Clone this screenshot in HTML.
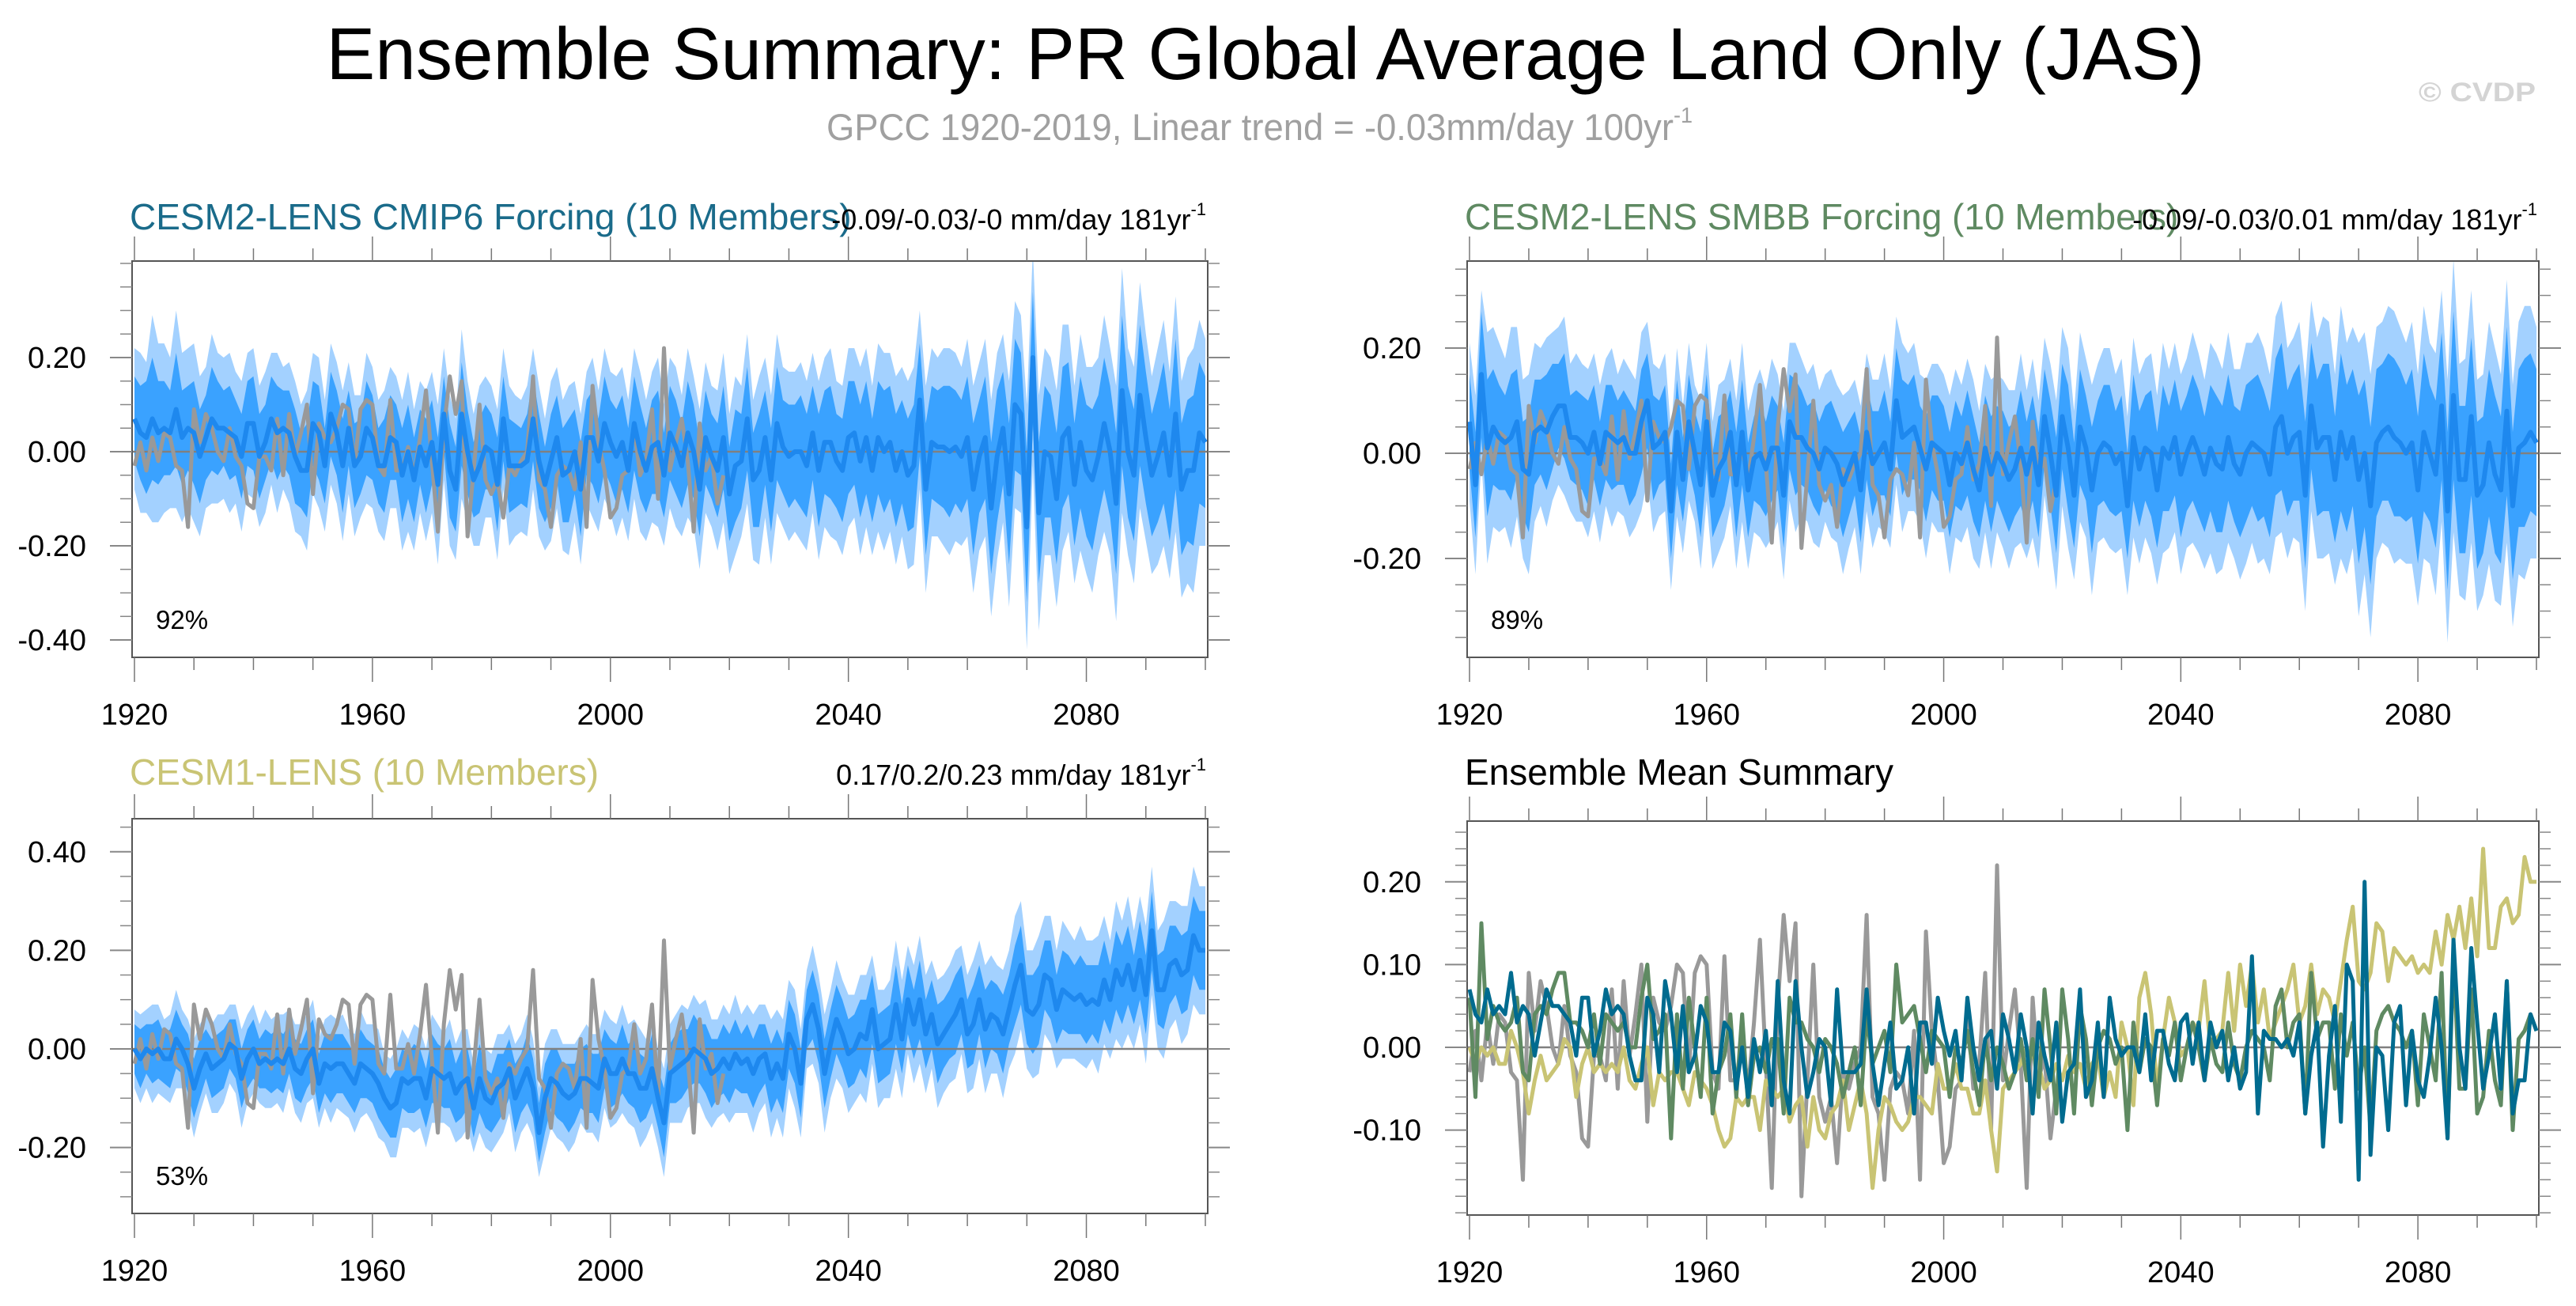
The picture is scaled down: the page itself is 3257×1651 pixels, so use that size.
<!DOCTYPE html>
<html><head><meta charset="utf-8">
<style>
html,body{margin:0;padding:0;background:#fff;}
svg{display:block;font-family:"Liberation Sans",Arial,sans-serif;}
</style></head>
<body>
<svg id="chart" width="3257" height="1651" viewBox="0 0 3257 1651" xmlns="http://www.w3.org/2000/svg">
<rect width="3257" height="1651" fill="#fff"/>
<text x="1600" y="100" font-size="93" text-anchor="middle" textLength="2375" lengthAdjust="spacingAndGlyphs">Ensemble Summary: PR Global Average Land Only (JAS)</text>
<text x="1045" y="177" font-size="47" fill="#a0a0a0" textLength="1095" lengthAdjust="spacingAndGlyphs">GPCC 1920-2019, Linear trend = -0.03mm/day 100yr<tspan font-size="28" dy="-22">-1</tspan></text>
<text x="3058" y="128" font-size="34" font-weight="bold" fill="#d4d4d4" textLength="148" lengthAdjust="spacingAndGlyphs">© CVDP</text>
<g id="panels"></g>
</svg>
<script>
const years = [];
for (let y = 1920; y <= 2100; y++) years.push(y);
const obsYears = years.slice(0, 100);

const meanCMIP6 = [0.07,0.04,0.03,0.07,0.04,0.05,0.04,0.09,0.03,0.05,
0.04,-0.01,0.03,0.07,0.05,0.05,0.04,0.03,-0.01,0.06,
0.06,-0.01,0.02,0.07,0.04,0.05,0.04,-0.01,-0.04,-0.04,
0.06,0.04,-0.03,0.08,0.04,-0.03,0.05,-0.03,-0.01,0.05,
0.03,-0.03,-0.03,0.03,0.02,-0.05,0.00,-0.06,0.01,-0.03,
0.02,-0.07,0.08,-0.04,-0.08,0.08,0.00,-0.06,-0.03,0.01,
0.00,-0.07,0.07,-0.03,-0.03,-0.03,-0.02,0.07,-0.02,-0.07,
-0.02,0.03,-0.05,-0.04,0.00,-0.08,0.03,0.03,-0.02,0.06,
0.02,-0.01,0.02,-0.04,0.06,0.00,-0.04,0.01,0.02,-0.05,
0.04,0.01,-0.03,0.04,0.00,-0.08,0.03,-0.01,-0.04,0.03,
-0.09,-0.03,-0.02,0.07,-0.06,-0.04,0.03,-0.06,0.06,0.01,
-0.01,0.00,0.00,-0.03,0.04,-0.04,0.02,0.02,-0.02,-0.04,
0.03,0.04,-0.02,0.03,-0.04,0.03,0.00,0.02,-0.04,0.00,
-0.05,-0.03,0.11,-0.08,0.02,0.01,0.01,0.00,0.01,-0.01,
0.03,-0.08,-0.01,0.03,-0.12,-0.01,0.05,-0.09,0.10,0.08,
-0.16,0.20,-0.13,0.00,-0.01,-0.10,0.03,0.05,-0.07,0.02,
-0.04,-0.06,-0.01,0.06,0.00,-0.11,0.13,0.00,-0.05,0.12,
0.03,-0.05,-0.01,0.04,-0.05,0.08,-0.08,-0.04,-0.04,0.04,
0.02];

const meanSMBB = [0.06,-0.06,0.15,0.01,0.05,0.03,0.02,0.03,0.06,-0.03,
-0.04,0.04,0.05,0.04,0.07,0.09,0.09,0.03,0.03,0.02,
0.00,0.04,-0.02,0.04,0.03,0.02,0.03,0.00,0.00,0.06,
0.10,0.01,0.02,0.04,-0.11,0.04,-0.05,0.06,0.00,-0.06,
0.06,-0.08,-0.03,-0.01,0.04,-0.06,0.04,-0.07,-0.01,0.00,
-0.03,0.01,0.01,-0.08,0.06,0.03,0.03,0.01,0.00,-0.03,
0.01,0.00,-0.02,-0.06,-0.03,0.00,-0.07,0.04,-0.02,0.00,
0.02,-0.03,0.10,0.03,0.04,0.05,0.01,-0.03,0.02,0.01,
0.00,-0.06,0.00,-0.02,0.02,-0.03,-0.07,0.01,-0.04,0.00,
-0.02,-0.05,-0.03,0.01,-0.04,0.01,-0.06,0.07,0.00,-0.08,
0.07,0.01,-0.08,0.05,0.01,-0.07,0.00,0.02,0.01,-0.02,
0.00,-0.10,0.03,-0.03,0.01,0.00,-0.07,0.01,-0.01,0.03,
-0.04,0.00,0.03,0.00,-0.04,0.01,-0.02,-0.03,0.03,-0.02,
-0.04,0.00,0.02,0.01,0.00,-0.04,0.05,0.07,0.00,0.03,
0.04,-0.08,0.09,0.01,0.03,0.03,-0.05,0.04,-0.01,0.03,
-0.05,0.00,-0.10,0.02,0.04,0.05,0.03,0.02,0.00,0.02,
-0.07,0.04,0.00,-0.04,0.09,-0.11,0.11,-0.05,-0.05,0.07,
-0.08,-0.06,0.02,-0.04,-0.07,0.08,-0.10,0.01,0.02,0.04,
0.02];

const meanCESM1 = [0.00,-0.02,0.00,-0.01,0.00,-0.02,-0.02,0.02,0.00,-0.03,
-0.08,-0.04,-0.01,-0.04,-0.03,-0.02,0.01,0.00,-0.06,-0.02,
0.00,-0.03,-0.02,-0.03,-0.02,-0.03,0.00,-0.04,-0.05,-0.02,
0.00,-0.07,-0.03,-0.04,-0.03,-0.03,-0.05,-0.07,-0.03,-0.04,
-0.05,-0.07,-0.10,-0.12,-0.11,-0.06,-0.07,-0.06,-0.06,-0.10,
-0.04,-0.05,-0.06,-0.05,-0.09,-0.07,-0.06,-0.12,-0.06,-0.10,
-0.11,-0.08,-0.07,-0.04,-0.10,-0.07,-0.04,-0.08,-0.17,-0.10,
-0.06,-0.07,-0.09,-0.10,-0.09,-0.06,-0.06,-0.07,-0.08,-0.02,
-0.05,-0.05,-0.02,-0.05,-0.05,-0.08,-0.08,-0.04,-0.10,-0.15,
-0.05,-0.04,-0.03,-0.02,0.00,-0.01,-0.02,-0.05,-0.04,-0.02,
-0.04,-0.01,-0.03,-0.02,-0.05,-0.02,-0.01,-0.06,-0.03,-0.06,
0.03,0.00,-0.07,0.06,0.09,0.04,-0.05,0.01,0.06,0.03,
-0.01,0.00,0.03,0.02,0.08,0.00,0.01,0.02,0.09,0.02,
0.10,0.05,0.10,0.03,0.07,0.01,0.03,0.05,0.07,0.10,
0.03,0.05,0.10,0.04,0.07,0.06,0.03,0.08,0.13,0.17,
0.08,0.07,0.09,0.15,0.14,0.08,0.12,0.11,0.10,0.11,
0.09,0.10,0.09,0.14,0.10,0.16,0.13,0.17,0.12,0.18,
0.11,0.24,0.12,0.12,0.17,0.18,0.15,0.16,0.23,0.20,
0.20];

const obsGPCC = [-0.03,0.02,-0.04,0.03,-0.02,0.04,0.03,-0.03,-0.04,-0.16,
0.09,0.02,0.08,0.05,0.00,-0.02,0.05,-0.01,-0.03,-0.11,
-0.12,-0.01,-0.01,-0.04,0.07,-0.05,0.08,-0.01,0.04,0.10,
-0.09,0.06,0.03,0.02,0.05,0.10,0.09,-0.03,0.09,0.11,
0.10,-0.03,-0.05,0.11,-0.04,-0.04,0.01,-0.05,0.03,0.13,
-0.02,-0.17,0.05,0.16,0.08,0.15,-0.18,-0.04,0.10,-0.06,
-0.09,-0.06,-0.14,-0.03,-0.05,-0.02,0.00,0.16,-0.06,-0.08,
-0.16,-0.05,-0.03,-0.04,-0.08,0.02,-0.16,0.14,0.02,-0.04,
-0.14,-0.12,-0.05,-0.04,0.05,-0.05,-0.02,0.09,-0.10,0.22,
-0.04,0.02,0.07,-0.02,-0.17,0.06,-0.04,-0.01,-0.11,-0.05];

const spreadOuterCESM2 = [0.15,0.17,0.16,0.22,0.19,0.18,0.16,0.21,0.18,0.17,
0.19,0.17,0.15,0.18,0.16,0.15,0.17,0.14,0.16,0.15,
0.16,0.15,0.15,0.14,0.17,0.13,0.15,0.16,0.14,0.17,
0.15,0.16,0.14,0.15,0.15,0.16,0.14,0.15,0.13,0.16,
0.15,0.14,0.16,0.15,0.14,0.16,0.17,0.15,0.14,0.16,
0.15,0.17,0.14,0.16,0.15,0.18,0.15,0.14,0.17,0.15,
0.14,0.16,0.15,0.17,0.15,0.14,0.16,0.15,0.16,0.14,
0.17,0.15,0.16,0.18,0.15,0.16,0.14,0.17,0.15,0.16,
0.15,0.17,0.16,0.15,0.16,0.17,0.15,0.16,0.18,0.15,
0.16,0.17,0.15,0.18,0.16,0.17,0.16,0.15,0.17,0.18,
0.17,0.19,0.16,0.18,0.17,0.20,0.17,0.18,0.19,0.17,
0.18,0.17,0.19,0.18,0.17,0.19,0.18,0.20,0.17,0.18,
0.19,0.18,0.20,0.19,0.18,0.20,0.21,0.19,0.20,0.18,
0.20,0.21,0.19,0.22,0.20,0.19,0.21,0.22,0.20,0.19,
0.21,0.22,0.20,0.21,0.23,0.22,0.20,0.24,0.22,0.21,
0.26,0.23,0.25,0.22,0.21,0.23,0.24,0.22,0.21,0.23,
0.22,0.24,0.21,0.23,0.22,0.25,0.26,0.22,0.23,0.24,
0.22,0.21,0.23,0.24,0.22,0.25,0.23,0.24,0.26,0.24,
0.22];

const spreadInnerCESM2 = [0.09,0.10,0.12,0.13,0.11,0.10,0.09,0.12,0.10,0.09,
0.11,0.10,0.09,0.11,0.10,0.08,0.10,0.08,0.09,0.09,
0.10,0.09,0.08,0.09,0.10,0.08,0.09,0.10,0.08,0.10,
0.09,0.10,0.08,0.09,0.09,0.10,0.08,0.09,0.08,0.10,
0.09,0.08,0.10,0.09,0.08,0.10,0.10,0.09,0.08,0.10,
0.09,0.10,0.08,0.10,0.09,0.11,0.09,0.08,0.10,0.09,
0.08,0.10,0.09,0.10,0.09,0.08,0.10,0.09,0.10,0.08,
0.10,0.09,0.10,0.11,0.09,0.10,0.08,0.10,0.09,0.10,
0.09,0.10,0.10,0.09,0.10,0.10,0.09,0.10,0.11,0.09,
0.10,0.10,0.09,0.11,0.10,0.10,0.10,0.09,0.10,0.11,
0.10,0.12,0.10,0.11,0.10,0.12,0.10,0.11,0.12,0.10,
0.11,0.10,0.12,0.11,0.10,0.12,0.11,0.12,0.10,0.11,
0.12,0.11,0.12,0.12,0.11,0.12,0.13,0.12,0.12,0.11,
0.12,0.13,0.12,0.14,0.12,0.12,0.13,0.14,0.12,0.12,
0.13,0.14,0.12,0.13,0.14,0.14,0.12,0.15,0.14,0.13,
0.16,0.14,0.15,0.14,0.13,0.14,0.15,0.14,0.13,0.14,
0.14,0.15,0.13,0.14,0.14,0.15,0.16,0.14,0.14,0.15,
0.14,0.13,0.14,0.15,0.14,0.16,0.14,0.15,0.16,0.15,
0.14];

const spreadOuterCESM1 = [0.08,0.09,0.08,0.10,0.09,0.08,0.09,0.10,0.08,0.09,
0.10,0.09,0.08,0.09,0.10,0.09,0.08,0.09,0.10,0.09,
0.09,0.08,0.10,0.09,0.09,0.10,0.08,0.09,0.10,0.09,
0.10,0.09,0.09,0.11,0.09,0.10,0.09,0.10,0.11,0.09,
0.10,0.11,0.09,0.10,0.11,0.10,0.09,0.11,0.10,0.10,
0.11,0.10,0.09,0.11,0.10,0.11,0.10,0.09,0.11,0.10,
0.10,0.11,0.10,0.09,0.11,0.10,0.11,0.10,0.09,0.11,
0.10,0.11,0.10,0.11,0.10,0.09,0.11,0.10,0.11,0.10,
0.11,0.10,0.11,0.10,0.11,0.12,0.10,0.11,0.10,0.11,
0.10,0.11,0.12,0.10,0.11,0.10,0.12,0.11,0.10,0.11,
0.11,0.12,0.10,0.11,0.12,0.11,0.10,0.12,0.11,0.12,
0.11,0.12,0.11,0.10,0.12,0.11,0.12,0.11,0.12,0.11,
0.12,0.11,0.12,0.13,0.11,0.12,0.11,0.12,0.13,0.12,
0.11,0.12,0.13,0.12,0.11,0.13,0.12,0.12,0.13,0.11,
0.12,0.13,0.12,0.13,0.12,0.11,0.13,0.12,0.14,0.13,
0.12,0.13,0.14,0.12,0.13,0.12,0.14,0.13,0.12,0.14,
0.13,0.12,0.14,0.13,0.12,0.14,0.13,0.14,0.12,0.13,
0.14,0.13,0.12,0.14,0.13,0.12,0.14,0.13,0.14,0.13,
0.13];

const spreadInnerCESM1 = [0.05,0.06,0.05,0.06,0.06,0.05,0.06,0.06,0.05,0.06,
0.06,0.06,0.05,0.06,0.06,0.06,0.05,0.06,0.06,0.06,
0.06,0.05,0.06,0.06,0.06,0.06,0.05,0.06,0.06,0.06,
0.06,0.06,0.06,0.07,0.06,0.06,0.06,0.06,0.07,0.06,
0.06,0.07,0.06,0.06,0.07,0.06,0.06,0.07,0.06,0.06,
0.07,0.06,0.06,0.07,0.06,0.07,0.06,0.06,0.07,0.06,
0.06,0.07,0.06,0.06,0.07,0.06,0.07,0.06,0.06,0.07,
0.06,0.07,0.06,0.07,0.06,0.06,0.07,0.06,0.07,0.06,
0.07,0.06,0.07,0.06,0.07,0.07,0.06,0.07,0.06,0.07,
0.06,0.07,0.07,0.06,0.07,0.06,0.07,0.07,0.06,0.07,
0.07,0.07,0.06,0.07,0.07,0.07,0.06,0.07,0.07,0.07,
0.07,0.07,0.07,0.06,0.07,0.07,0.07,0.07,0.07,0.07,
0.07,0.07,0.07,0.08,0.07,0.07,0.07,0.07,0.08,0.07,
0.07,0.07,0.08,0.07,0.07,0.08,0.07,0.07,0.08,0.07,
0.07,0.08,0.07,0.08,0.07,0.07,0.08,0.07,0.08,0.08,
0.07,0.08,0.08,0.07,0.08,0.07,0.08,0.08,0.07,0.08,
0.08,0.07,0.08,0.08,0.07,0.08,0.08,0.08,0.07,0.08,
0.08,0.08,0.07,0.08,0.08,0.07,0.08,0.08,0.08,0.08,
0.08];

const xTickLabels = ["1920","1960","2000","2040","2080"];
const yTicksP1 = [0.2, 0, -0.2, -0.4];
const yTicksP2 = [0.2, 0, -0.2];
const yTicksP3 = [0.4, 0.2, 0, -0.2];
const yTicksP4 = [0.2, 0.1, 0, -0.1];

const NS = "http://www.w3.org/2000/svg";
const root = document.getElementById("panels");
function mk(tag, attrs, parent) {
  const e = document.createElementNS(NS, tag);
  for (const k in attrs) e.setAttribute(k, attrs[k]);
  (parent || root).appendChild(e);
  return e;
}

const panels = [
  {key:"cmip6", L:167, R:1527, T:330, B:831, zeroY:571, ppu:595, yTicks:yTicksP1, minor:0.05,
   title:"CESM2-LENS CMIP6 Forcing (10 Members)", tcolor:"#1a6b8a", right:"-0.09/-0.03/-0 mm/day 181yr", pct:"92%",
   mean:meanCMIP6, outer:spreadOuterCESM2, inner:spreadInnerCESM2, titleY:290},
  {key:"smbb", L:1855, R:3210, T:330, B:831, zeroY:573, ppu:665, yTicks:yTicksP2, minor:0.05,
   title:"CESM2-LENS SMBB Forcing (10 Members)", tcolor:"#5f8a62", right:"-0.09/-0.03/0.01 mm/day 181yr", pct:"89%",
   mean:meanSMBB, outer:spreadOuterCESM2, inner:spreadInnerCESM2, titleY:290},
  {key:"cesm1", L:167, R:1527, T:1035, B:1534, zeroY:1326, ppu:623, yTicks:yTicksP3, minor:0.05,
   title:"CESM1-LENS (10 Members)", tcolor:"#c9c474", right:"0.17/0.2/0.23 mm/day 181yr", pct:"53%",
   mean:meanCESM1, outer:spreadOuterCESM1, inner:spreadInnerCESM1, titleY:992},
  {key:"summary", L:1855, R:3210, T:1038, B:1536, zeroY:1324, ppu:1046, yTicks:yTicksP4, minor:0.02,
   title:"Ensemble Mean Summary", tcolor:"#000", right:null, pct:null, titleY:992}
];

panels.forEach((p, pi) => {
  const g = mk("g", {});
  
  
  const xs = y => p.L + 3 + (y - 1920) * (p.R - p.L - 6) / 180;
  const ys = v => p.zeroY - v * p.ppu;
  const clipId = "clip" + pi;
  const cp = mk("clipPath", {id: clipId}, g);
  mk("rect", {x: p.L, y: p.T, width: p.R - p.L, height: p.B - p.T}, cp);
  const plot = mk("g", {"clip-path": "url(#" + clipId + ")"}, g);

  if (p.mean) {
    const band = (w, color, name) => {
      let up = years.map((y, i) => xs(y).toFixed(1) + "," + ys(p.mean[i] + w[i]).toFixed(1));
      let lo = years.map((y, i) => xs(y).toFixed(1) + "," + ys(p.mean[i] - w[i]).toFixed(1)).reverse();
      const poly = mk("polygon", {points: up.concat(lo).join(" "), fill: color}, plot);
      
      
    };
    band(p.outer, "#a3d1ff", "ensemble-range-band");
    band(p.inner, "#3aa2ff", "ensemble-inner-band");
  }
  const zl = mk("line", {x1: p.L, x2: p.R, y1: ys(0), y2: ys(0), stroke: "#808080", "stroke-width": 2.5}, plot);
  
  

  const line = (xv, vals, color, w, name) => {
    const pl = mk("polyline", {points: vals.map((v, i) => xs(xv[i]).toFixed(1) + "," + ys(v).toFixed(1)).join(" "),
      fill: "none", stroke: color, "stroke-width": w, "stroke-linejoin": "round"}, plot);
    
    
  };
  if (p.mean) {
    line(obsYears, obsGPCC, "#999999", 5, "gpcc-observed-line");
    line(years, p.mean, "#1e88ee", 6, "ensemble-mean-line");
  } else {
    line(obsYears, obsGPCC, "#999999", 5, "gpcc-observed-line");
    line(years, meanCESM1, "#c9c474", 5, "cesm1-mean-line");
    line(years, meanSMBB, "#5f8a62", 5, "smbb-mean-line");
    line(years, meanCMIP6, "#006b8f", 5, "cmip6-mean-line");
  }

  const box = mk("rect", {x: p.L, y: p.T, width: p.R - p.L, height: p.B - p.T, fill: "none", stroke: "#555", "stroke-width": 2}, g);
  
  

  for (let y = 1920; y <= 2100; y += 10) {
    const maj = (y - 1920) % 40 === 0;
    const len = maj ? 31 : 16;
    mk("line", {x1: xs(y), x2: xs(y), y1: p.T, y2: p.T - len, stroke: "#777", "stroke-width": 1.5}, g);
    mk("line", {x1: xs(y), x2: xs(y), y1: p.B, y2: p.B + len, stroke: "#777", "stroke-width": 1.5}, g);
  }
  xTickLabels.forEach(lbl => {
    const t = mk("text", {x: xs(+lbl), y: p.B + 85, "font-size": 38, "text-anchor": "middle"}, g);
    t.textContent = lbl;
    
    
  });
  const vTop = (p.zeroY - p.T) / p.ppu, vBot = (p.zeroY - p.B) / p.ppu;
  const n0 = Math.ceil((vBot + 1e-6) / p.minor), n1 = Math.floor((vTop - 1e-6) / p.minor);
  for (let n = n0; n <= n1; n++) {
    const v = n * p.minor;
    const maj = p.yTicks.some(t => Math.abs(t - v) < 1e-6);
    const len = maj ? 28 : 15;
    mk("line", {x1: p.L, x2: p.L - len, y1: ys(v), y2: ys(v), stroke: "#888", "stroke-width": maj ? 2 : 1.5}, g);
    mk("line", {x1: p.R, x2: p.R + len, y1: ys(v), y2: ys(v), stroke: "#888", "stroke-width": maj ? 2 : 1.5}, g);
  }
  p.yTicks.forEach(v => {
    const t = mk("text", {x: p.L - 58, y: ys(v) + 13, "font-size": 38, "text-anchor": "end"}, g);
    t.textContent = v.toFixed(2).replace("-0.00", "0.00");
    
    
  });

  const tt = mk("text", {x: p.L - 3, y: p.titleY, "font-size": 46, fill: p.tcolor}, g);
  tt.textContent = p.title;
  
  
  if (p.right) {
    const rt = mk("text", {x: p.R - 2, y: p.titleY, "font-size": 36, "text-anchor": "end"}, g);
    rt.textContent = p.right;
    const sup = mk("tspan", {"font-size": 22, dy: -18}, rt);
    sup.textContent = "-1";
    
    
  }
  if (p.pct) {
    const pt = mk("text", {x: p.L + 30, y: p.B - 36, "font-size": 33}, g);
    pt.textContent = p.pct;
    
    
  }
});
</script>
</body></html>
